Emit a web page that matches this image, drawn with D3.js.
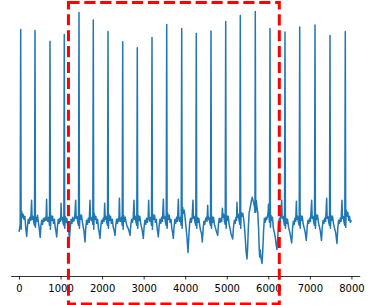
<!DOCTYPE html>
<html>
<head>
<meta charset="utf-8">
<script src="https://cdn.jsdelivr.net/npm/d3@7"></script>
<style>
  html, body { margin: 0; padding: 0; background: #fff; }
  svg { display: block; }
</style>
</head>
<body>
<div id="chart"></div>
<script>
// ---- data (sample index, amplitude) ----
const sampleIndex = [
  0,14,28,
  41,51,64,82,100,120,142,163,185,203,223,243,263,283,
  303,315,335,355,373,
  385,395,408,426,446,466,488,510,528,548,568,588,610,632,650,
  664,676,694,714,734,
  746,756,770,788,808,830,852,872,890,907,925,945,965,985,1003,
  1012,1024,1042,1062,1079,
  1090,1100,1113,1131,1150,1172,1194,1215,1234,1254,1274,1296,1318,1340,
  1364,1376,1394,1414,1432,
  1444,1454,1467,1485,1505,1526,1548,1568,1588,1606,1626,1646,1668,1690,
  1708,1720,1738,1758,1776,
  1788,1798,1811,1829,1849,1870,1892,1912,1930,1949,1967,1987,2007,2027,2047,
  2062,2074,2092,2112,2130,
  2142,2152,2165,2183,2203,2224,2246,2268,2290,2310,2328,2348,2368,2388,2404,
  2416,2428,2446,2466,2484,
  2496,2506,2519,2537,2557,2578,2602,2628,2650,2671,2690,2710,2730,2750,
  2767,2779,2797,2817,2835,
  2847,2857,2870,2888,2908,2928,2950,2970,2992,3010,3030,3050,3070,3090,3108,
  3121,3133,3151,3171,3189,
  3201,3211,3224,3242,3262,3283,3305,3328,3353,3372,3392,3412,3432,3452,
  3475,3487,3505,3525,3543,
  3555,3565,3578,3596,3616,3637,3659,3680,3697,3714,3733,3753,3773,3793,3813,
  3836,3848,3866,3886,3904,
  3916,3926,3939,3957,3977,3998,4020,4043,4067,4087,4107,4127,4147,4167,
  4187,4199,4217,4237,4255,
  4267,4277,4290,4308,4328,4349,4370,4392,4412,4430,4450,4470,4490,4510,4525,
  4541,4553,4571,4591,4609,
  4621,4631,4644,4662,4682,4703,4725,4750,4782,4800,4820,4840,4860,4878,
  4895,4907,4925,4945,4963,
  4975,4985,4998,5016,5036,5057,5079,5105,5143,5162,5182,5202,5222,5238,
  5246,5258,5276,5296,5314,
  5326,5336,5349,5367,5387,5408,5428,5448,5468,5487,5503,5520,5540,5565,5590,5612,5632,5652,5670,5679,
  5687,5697,5710,5728,5746,5765,5780,5793,5806,5822,5848,5865,5885,5905,5925,5945,5962,5980,5995,
  6005,6017,6029,
  6041,6051,6064,6082,6100,6122,6145,6168,6190,6209,6228,6248,6268,6288,
  6322,6334,6352,6372,6390,
  6402,6412,6425,6443,6463,6484,6506,6532,6563,6582,6602,6622,6642,6660,
  6676,6688,6706,6726,6744,
  6756,6766,6779,6797,6817,6838,6860,6888,6915,6934,6954,6974,6994,7014,
  7044,7056,7074,7094,7112,
  7124,7134,7147,7165,7185,7206,7228,7254,7280,7299,7319,7339,7359,7380,
  7405,7417,7435,7455,7473,
  7485,7495,7508,7526,7546,7567,7589,7620,7653,7672,7692,7712,7732,7752,
  7773,7785,7803,7823,7841,
  7853,7863,7876,7894,7914,7935,7955,7975,7999
];
const amplitude = [
  -0.19,-0.12,-0.04,
  3.85,-0.14,0.22,0.10,0.16,0.06,0.12,-0.12,-0.28,-0.08,0.06,-0.02,0.10,0.04,
  0.44,0.06,0.12,0.00,-0.06,
  3.83,-0.10,0.10,0.02,0.14,0.00,-0.12,-0.30,-0.06,0.04,-0.04,0.08,0.02,0.10,0.04,
  0.46,0.08,0.02,0.10,-0.06,
  3.62,-0.14,0.14,0.04,0.12,-0.02,0.06,-0.10,-0.18,-0.29,-0.08,0.06,-0.02,0.08,0.02,
  0.38,0.06,0.10,-0.02,-0.06,
  3.75,-0.12,0.12,0.00,0.08,-0.06,-0.16,-0.32,-0.10,0.06,-0.02,0.10,0.02,0.08,
  0.44,0.08,0.12,0.00,-0.06,
  4.19,-0.12,0.16,0.06,0.14,0.00,-0.10,-0.20,-0.39,-0.12,0.04,-0.04,0.08,0.00,
  0.44,0.08,0.04,0.10,-0.04,
  4.04,-0.14,0.18,0.06,0.12,-0.02,0.06,-0.12,-0.20,-0.32,-0.10,0.04,-0.02,0.08,0.02,
  0.38,0.06,0.12,0.00,-0.06,
  3.81,-0.12,0.16,0.04,0.12,-0.02,0.06,-0.10,-0.16,-0.26,-0.06,0.06,-0.02,0.08,0.02,
  0.48,0.08,0.02,0.10,-0.06,
  3.61,-0.14,0.14,0.02,0.10,0.00,-0.08,-0.12,-0.18,-0.26,-0.06,0.06,0.00,0.10,
  0.44,0.06,0.12,0.00,-0.06,
  3.49,-0.12,0.14,0.04,0.12,-0.02,-0.10,-0.18,-0.32,-0.10,0.04,-0.04,0.08,0.00,0.10,
  0.44,0.08,0.02,0.10,-0.06,
  3.69,-0.14,0.16,0.06,0.14,0.00,0.06,-0.14,-0.29,-0.08,0.06,-0.02,0.10,0.02,
  0.46,0.08,0.12,0.00,-0.06,
  3.95,-0.12,0.18,0.06,0.14,0.00,0.06,-0.14,-0.20,-0.32,-0.08,0.06,-0.02,0.10,0.02,
  0.46,0.08,0.02,0.10,-0.06,
  3.87,-0.12,0.30,0.18,0.24,0.08,-0.10,-0.30,-0.60,-0.30,-0.02,0.08,0.00,0.10,
  0.44,0.08,0.12,0.00,-0.06,
  3.77,-0.12,0.10,0.00,0.08,-0.06,-0.16,-0.22,-0.39,-0.14,0.02,-0.04,0.06,0.10,0.02,
  0.34,0.06,0.10,0.00,-0.06,
  3.82,-0.12,0.12,0.00,0.10,-0.04,-0.10,-0.18,-0.26,-0.04,0.08,0.00,0.08,0.02,
  0.28,0.10,0.16,0.02,-0.04,
  4.01,-0.12,0.14,0.04,0.12,-0.04,-0.12,-0.24,-0.33,-0.10,0.04,-0.02,0.10,0.04,
  0.40,0.10,0.16,0.04,-0.04,
  4.13,-0.12,0.20,0.12,0.18,0.06,-0.10,-0.35,-0.60,-0.73,-0.50,-0.10,0.20,0.30,0.42,0.50,0.44,0.38,0.30,0.20,
  4.21,0.20,0.44,0.30,0.20,-0.10,-0.50,-0.69,-0.55,-0.70,-0.82,-0.60,-0.20,0.08,0.00,0.10,0.06,0.12,0.20,
  0.36,0.12,0.00,
  3.87,-0.10,0.14,0.04,0.10,-0.12,-0.20,-0.30,-0.45,-0.54,-0.30,0.00,0.08,0.02,
  0.44,0.08,0.12,0.02,-0.06,
  3.80,-0.12,0.08,-0.02,0.06,-0.08,-0.16,-0.26,-0.41,-0.14,0.02,-0.04,0.08,0.02,
  0.42,0.06,0.12,0.00,-0.06,
  3.90,-0.12,0.14,0.04,0.12,-0.02,-0.10,-0.20,-0.36,-0.10,0.04,-0.02,0.08,0.02,
  0.44,0.08,0.12,0.00,-0.06,
  3.94,-0.12,0.16,0.06,0.14,0.00,-0.08,-0.18,-0.36,-0.10,0.04,-0.02,0.08,0.02,
  0.48,0.08,0.12,0.00,-0.06,
  3.73,-0.12,0.14,0.04,0.12,-0.02,-0.10,-0.20,-0.42,-0.12,0.04,-0.02,0.08,0.02,
  0.44,0.08,0.12,0.00,-0.06,
  3.81,-0.10,0.24,0.12,0.20,0.04,0.12,0.00,0.04
];
const xTicks = [0, 1000, 2000, 3000, 4000, 5000, 6000, 7000, 8000];
const xLimits = [-200, 8200];
const highlightX = [1190, 6265];
const highlightY = [-1.63, 4.39];

// ---- layout ----
const W = 373, H = 305;
const plot = { left: 10.69, right: 359.71, top: -1, bottom: 276 };

const svg = d3.select("#chart").append("svg")
  .attr("width", W).attr("height", H)
  .style("background", "#fff");

const x = d3.scaleLinear().domain(xLimits).range([plot.left, plot.right]);
const ext = d3.extent(amplitude);
const pad = (ext[1] - ext[0]) * 0.05;
const y = d3.scaleLinear().domain([ext[0] - pad, ext[1] + pad]).range([plot.bottom, plot.top]);

const pts = sampleIndex.map((s, i) => [s, amplitude[i]]);

svg.append("path")
  .datum(pts)
  .attr("fill", "none")
  .attr("stroke", "#1f77b4")
  .attr("stroke-width", 1.5)
  .attr("stroke-linejoin", "round")
  .attr("d", d3.line().x(d => x(d[0])).y(d => y(d[1])));

// bottom axis
const axis = d3.axisBottom(x).tickValues(xTicks).tickFormat(d3.format("d"))
  .tickSizeInner(3.5).tickSizeOuter(0).tickPadding(3.5);
const gx = svg.append("g").attr("transform", `translate(0,${plot.bottom})`).call(axis);
gx.select(".domain").attr("stroke", "#000").attr("stroke-width", 0.8);
gx.selectAll(".tick line").attr("stroke", "#000").attr("stroke-width", 0.8);
gx.selectAll(".tick text")
  .attr("fill", "#000")
  .attr("font-family", "DejaVu Sans, sans-serif")
  .attr("font-size", 10)
  .attr("dy", null)
  .attr("y", 15.6);

// dashed highlight rectangle
svg.append("rect")
  .attr("x", x(highlightX[0]))
  .attr("y", y(highlightY[1]))
  .attr("width", x(highlightX[1]) - x(highlightX[0]))
  .attr("height", y(highlightY[0]) - y(highlightY[1]))
  .attr("fill", "none")
  .attr("stroke", "red")
  .attr("stroke-width", 3)
  .attr("stroke-dasharray", "11.1,4.8");
</script>
</body>
</html>
